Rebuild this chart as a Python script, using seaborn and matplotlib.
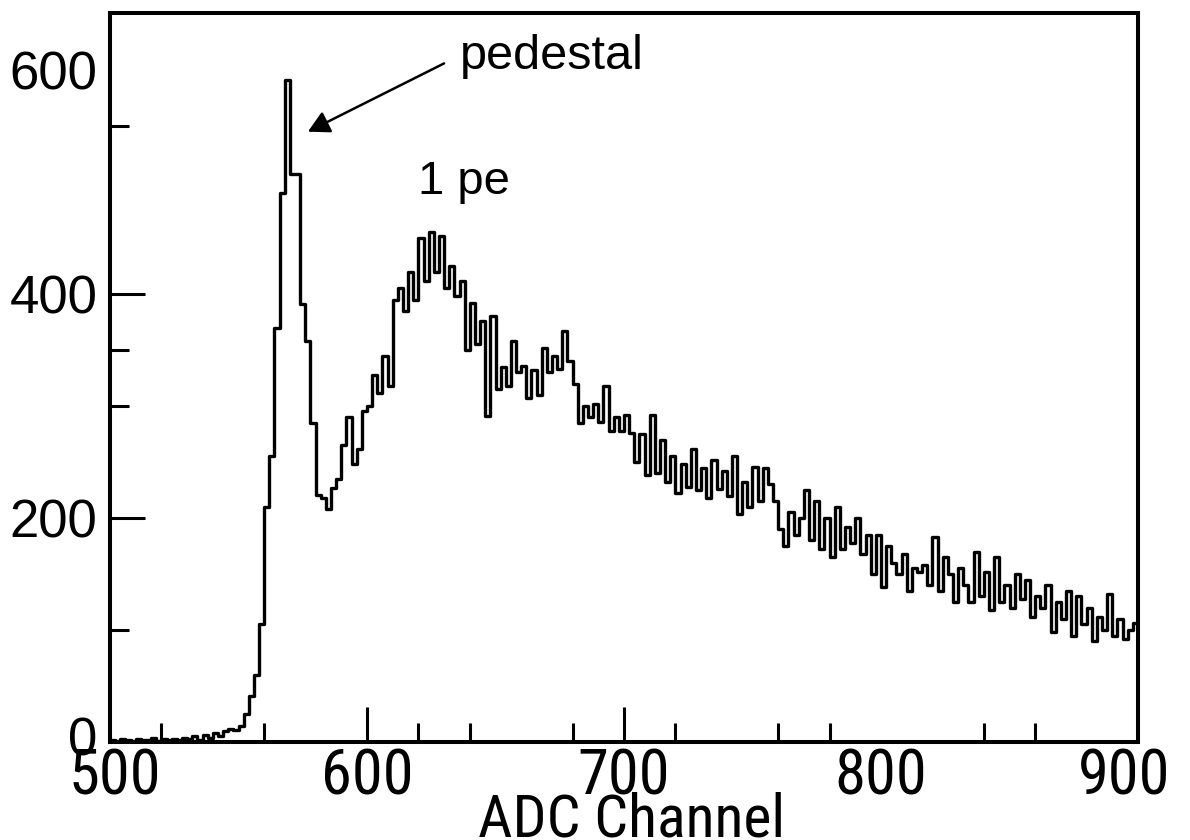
import numpy as np
import pandas as pd
import matplotlib
matplotlib.use("Agg")
import matplotlib.pyplot as plt
import matplotlib.transforms as mtransforms
from matplotlib import font_manager
import seaborn as sns

# ---- data: counts per 2-channel ADC bin, bins start at 500 ----
bin_start = list(range(500, 900, 2))
counts = [
    2, 1, 3, 2, 1, 3, 2, 2, 4, 1,            # 500-518
    3, 2, 3, 2, 4, 3, 5, 2, 6, 4,            # 520-538
    8, 5, 10, 12, 11, 14, 25, 41, 60, 105,   # 540-558
    210, 255, 370, 490, 591, 507, 507, 391, 358, 285,  # 560-578
    221, 218, 208, 227, 235, 265, 290, 248, 262, 296,  # 580-598
    300, 328, 312, 345, 318, 395, 405, 385, 420, 395,  # 600-618
    450, 412, 455, 420, 452, 405, 425, 398, 412, 350,  # 620-638
    392, 355, 376, 291, 380, 315, 335, 318, 358, 330,  # 640-658
    336, 307, 332, 310, 352, 330, 345, 333, 367, 340,  # 660-678
    320, 285, 300, 290, 302, 286, 318, 278, 290, 278,  # 680-698
    292, 276, 250, 275, 238, 292, 240, 270, 232, 255,  # 700-718
    222, 248, 228, 262, 225, 245, 218, 252, 226, 242,  # 720-738
    220, 255, 204, 232, 210, 246, 215, 245, 230, 215,  # 740-758
    190, 175, 205, 185, 200, 225, 180, 215, 172, 200,  # 760-778
    165, 210, 172, 192, 178, 200, 168, 185, 150, 185,  # 780-798
    138, 175, 160, 150, 168, 135, 155, 152, 158, 140,  # 800-818
    183, 135, 165, 150, 125, 155, 140, 125, 170, 130,  # 820-838
    152, 118, 165, 125, 140, 120, 150, 128, 145, 112,  # 840-858
    130, 120, 140, 98, 125, 110, 135, 95, 130, 105,    # 860-878
    120, 90, 112, 100, 132, 95, 110, 92, 100, 106,     # 880-898
]

x_major = [500, 600, 700, 800, 900]
x_minor = [520, 560, 620, 640, 680, 720, 760, 780, 840, 860]
y_major = [0, 200, 400, 600]
y_minor = [100, 300, 350, 550]

df = pd.DataFrame({"channel": [b + 1 for b in bin_start], "count": counts})
edges = list(range(500, 902, 2))

sns.set_style("white")
plt.rcParams["font.family"] = ["Liberation Sans", "DejaVu Sans"]
for k in ("text.color", "axes.labelcolor", "xtick.color", "ytick.color"):
    plt.rcParams[k] = "black"

# narrow font for the x axis texts if one is installed
names = {f.name for f in font_manager.fontManager.ttflist}
narrow_fp = None
for cand in ("Liberation Sans Narrow", "Roboto Condensed", "Open Sans Condensed",
             "Arial Narrow", "Nimbus Sans Narrow"):
    if cand in names:
        narrow_fp = font_manager.FontProperties(family=cand)
        break
if narrow_fp is None:
    narrow_fp = font_manager.FontProperties(family="Liberation Sans")
    x_size, xl_size = 37, 37
else:
    x_size, xl_size = 45, 43

fig = plt.figure(figsize=(11.9, 8.4), dpi=100)
ax = fig.add_axes([110 / 1190, 1 - 742 / 840, (1138 - 110) / 1190, (742 - 13) / 840])

sns.histplot(data=df, x="channel", weights="count", bins=edges, element="step",
             fill=False, color="black", linewidth=2.4, ax=ax)

ax.set_xlim(500, 900)
ax.set_ylim(0, 651)

for s in ax.spines.values():
    s.set_visible(True)
    s.set_linewidth(2.9)
    s.set_color("black")

ax.set_xticks(x_major)
ax.set_xticks(x_minor, minor=True)
ax.set_xticklabels([str(v) for v in x_major])
for lab in ax.get_xticklabels():
    lab.set_fontproperties(narrow_fp)
    lab.set_fontsize(x_size)
ax.set_yticks(y_major)
ax.set_yticks(y_minor, minor=True)
ax.set_yticklabels([str(v) for v in y_major], fontsize=38)

ax.tick_params(axis="both", which="both", direction="in", bottom=True, left=True,
               top=False, right=False, colors="black")
ax.tick_params(axis="both", which="major", length=25, width=2.2)
ax.tick_params(axis="both", which="minor", length=14, width=2.2)
ax.tick_params(axis="x", which="major", pad=4)
ax.tick_params(axis="y", which="major", pad=9)

# tick marks not drawn at these positions in the reference
for i, t in enumerate(ax.xaxis.get_major_ticks()):
    if x_major[i] in (500, 800, 900):
        t.tick1line.set_visible(False)
for i, t in enumerate(ax.yaxis.get_major_ticks()):
    if y_major[i] in (0, 600):
        t.tick1line.set_visible(False)

# nudge edge labels the way the reference places them
def nudge(label, dx_px, dy_px):
    off = mtransforms.ScaledTranslation(dx_px / 100, dy_px / 100, fig.dpi_scale_trans)
    label.set_transform(label.get_transform() + off)

xl = ax.get_xticklabels()
nudge(xl[0], 5, 0)
nudge(xl[-1], -14, 0)
nudge(ax.get_yticklabels()[0], 0, 6)

ax.set_xlabel("ADC Channel")
ax.xaxis.label.set_fontproperties(narrow_fp)
ax.xaxis.label.set_fontsize(xl_size)
ax.xaxis.label.set_va("baseline")
ax.xaxis.set_label_coords(0.507, -0.129)
ax.set_ylabel("")

ax.annotate("", xy=(577, 545), xytext=(630, 606),
            arrowprops=dict(arrowstyle="-|>,head_length=1.3,head_width=0.7",
                            color="black", lw=1.8, shrinkA=0, shrinkB=0))
ax.text(636, 601, "pedestal", fontsize=35, ha="left", va="baseline")
ax.text(620, 489, "1 pe", fontsize=34, ha="left", va="baseline")

fig.savefig("out.png", dpi=100, facecolor="white")
